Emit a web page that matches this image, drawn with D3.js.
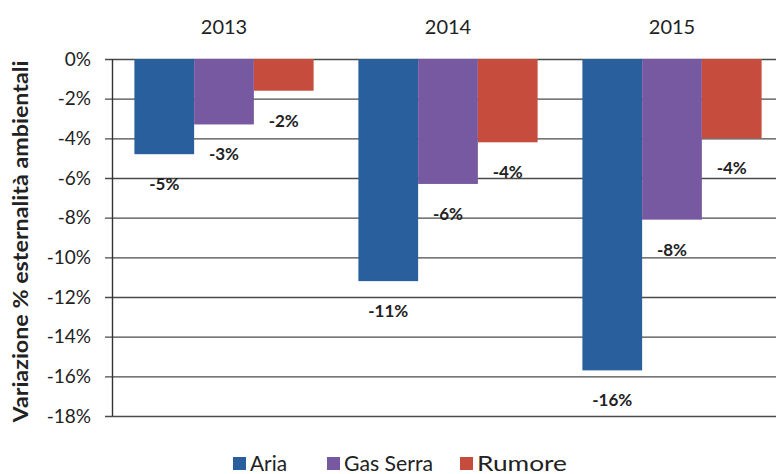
<!DOCTYPE html>
<html>
<head>
<meta charset="utf-8">
<script src="https://cdn.jsdelivr.net/npm/d3@7/dist/d3.min.js"></script>
<style>
  body { margin: 0; background: #fff; }
  svg text { font-family: Lato, "Open Sans", sans-serif; fill: #222; }
</style>
</head>
<body>
<div id="chart"></div>
<script>
const years = ["2013", "2014", "2015"];
const seriesNames = ["Aria", "Gas Serra", "Rumore"];
const seriesColors = ["#2a5f9e", "#7659a0", "#c64c3e"];
// values in % (bar ends)
const aria = [-4.8, -11.2, -15.7];
const gasSerra = [-3.3, -6.3, -8.1];
const rumore = [-1.6, -4.2, -4.0];
// labels shown on the chart
const ariaLabels = ["-5%", "-11%", "-16%"];
const gasSerraLabels = ["-3%", "-6%", "-8%"];
const rumoreLabels = ["-2%", "-4%", "-4%"];
const yTicks = [0, -2, -4, -6, -8, -10, -12, -14, -16, -18];

function drawChart() {
    var width = 776, height = 474;
    var left = 112, right = 784, top = 59, bottom = 416;

    var svg = d3.select("#chart").append("svg")
        .attr("width", width)
        .attr("height", height);

    var series = [
        {name: seriesNames[0], values: aria, labels: ariaLabels, color: seriesColors[0]},
        {name: seriesNames[1], values: gasSerra, labels: gasSerraLabels, color: seriesColors[1]},
        {name: seriesNames[2], values: rumore, labels: rumoreLabels, color: seriesColors[2]}
    ];

    var x0 = d3.scaleBand().domain(years).range([left, right]).paddingInner(0.2).paddingOuter(0.1);
    var x1 = d3.scaleBand().domain(seriesNames).range([0, x0.bandwidth()]);
    var y = d3.scaleLinear().domain([0, -18]).range([top, bottom]);

    // gridlines
    svg.append("g")
        .selectAll("line")
        .data(yTicks)
        .enter()
        .append("line")
        .attr("x1", left - 7)
        .attr("x2", width)
        .attr("y1", function(d) { return y(d) + 0.5; })
        .attr("y2", function(d) { return y(d) + 0.5; })
        .attr("stroke", "#4a4a4a")
        .attr("stroke-width", 1.4);

    // tick labels
    svg.append("g")
        .selectAll("text")
        .data(yTicks)
        .enter()
        .append("text")
        .attr("x", 91)
        .attr("y", function(d) { return y(d); })
        .attr("dy", "0.35em")
        .attr("text-anchor", "end")
        .attr("font-size", 19)
        .text(function(d) { return d + "%"; });

    // bars
    var groups = svg.append("g")
        .selectAll("g")
        .data(series)
        .enter()
        .append("g")
        .attr("fill", function(d) { return d.color; });

    groups.selectAll("rect")
        .data(function(s) {
            return years.map(function(yr, i) { return {year: yr, name: s.name, value: s.values[i]}; });
        })
        .enter()
        .append("rect")
        .attr("x", function(d) { return x0(d.year) + x1(d.name); })
        .attr("y", y(0))
        .attr("width", x1.bandwidth())
        .attr("height", function(d) { return y(d.value) - y(0); });

    // value labels
    svg.append("g")
        .selectAll("g")
        .data(series)
        .enter()
        .append("g")
        .selectAll("text")
        .data(function(s) {
            return years.map(function(yr, i) { return {year: yr, name: s.name, value: s.values[i], label: s.labels[i]}; });
        })
        .enter()
        .append("text")
        .attr("x", function(d) { return x0(d.year) + x1(d.name) + x1.bandwidth() / 2; })
        .attr("y", function(d) { return y(d.value) + 30; })
        .attr("dy", "0.35em")
        .attr("text-anchor", "middle")
        .attr("font-size", 17)
        .attr("font-weight", "bold")
        .text(function(d) { return d.label; });

    // left axis line
    svg.append("line")
        .attr("x1", left + 0.5).attr("x2", left + 0.5)
        .attr("y1", top).attr("y2", bottom)
        .attr("stroke", "#333")
        .attr("stroke-width", 1.4);

    // year labels at top
    svg.append("g")
        .selectAll("text")
        .data(years)
        .enter()
        .append("text")
        .attr("x", function(d) { return x0(d) + x0.bandwidth() / 2; })
        .attr("y", 27)
        .attr("dy", "0.35em")
        .attr("text-anchor", "middle")
        .attr("font-size", 20)
        .text(function(d) { return d; });

    // y axis title
    svg.append("text")
        .attr("transform", "translate(21," + ((top + bottom) / 2 + 4) + ") rotate(-90)")
        .attr("text-anchor", "middle")
        .attr("dy", "0.35em")
        .attr("font-size", 21)
        .attr("font-weight", "bold")
        .attr("textLength", 362)
        .attr("lengthAdjust", "spacingAndGlyphs")
        .text("Variazione % esternalità ambientali");

    // legend
    var legendX = [233, 327, 460];
    var legendW = [37, 89, 90];
    var legend = svg.append("g")
        .selectAll("g")
        .data(series)
        .enter()
        .append("g")
        .attr("transform", function(d, i) { return "translate(" + legendX[i] + ",464)"; });

    legend.append("rect")
        .attr("x", 0).attr("y", -7)
        .attr("width", 13).attr("height", 13)
        .attr("fill", function(d) { return d.color; });

    legend.append("text")
        .attr("x", 17)
        .attr("dy", "0.35em")
        .attr("font-size", 21)
        .attr("textLength", function(d, i) { return legendW[i]; })
        .attr("lengthAdjust", "spacingAndGlyphs")
        .text(function(d) { return d.name; });
}

drawChart();
</script>
</body>
</html>
